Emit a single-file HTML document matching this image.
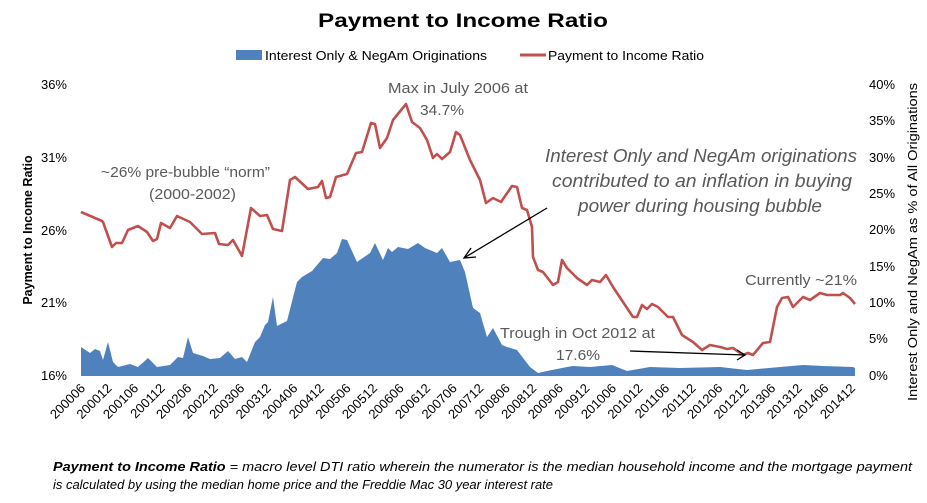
<!DOCTYPE html>
<html><head><meta charset="utf-8"><style>
body{margin:0;background:#fff;}
svg{display:block;font-family:"Liberation Sans",sans-serif;}
</style></head><body>
<svg width="927" height="503" viewBox="0 0 927 503">
<text x="318" y="27" font-size="19" font-weight="bold" fill="#000" textLength="290" lengthAdjust="spacingAndGlyphs">Payment to Income Ratio</text>
<rect x="236" y="50" width="26" height="10" fill="#4f81bd"/>
<text x="265" y="60" font-size="13" fill="#000" textLength="222" lengthAdjust="spacingAndGlyphs">Interest Only &amp; NegAm Originations</text>
<line x1="520" y1="55" x2="546" y2="55" stroke="#c0504d" stroke-width="3"/>
<text x="548" y="60" font-size="13" fill="#000" textLength="156" lengthAdjust="spacingAndGlyphs">Payment to Income Ratio</text>

<g font-size="13" fill="#000" text-anchor="end">
<text x="67" y="89">36%</text><text x="67" y="162">31%</text><text x="67" y="235">26%</text><text x="67" y="307">21%</text><text x="67" y="380">16%</text>
</g>
<g font-size="13" fill="#000" text-anchor="start">
<text x="869" y="89">40%</text><text x="869" y="125">35%</text><text x="869" y="162">30%</text><text x="869" y="198">25%</text><text x="869" y="234">20%</text><text x="869" y="271">15%</text><text x="869" y="307">10%</text><text x="869" y="343">5%</text><text x="869" y="380">0%</text>
</g>
<text transform="translate(32,230) rotate(-90)" text-anchor="middle" font-size="12.5" font-weight="bold" fill="#000">Payment to Income Ratio</text>
<text transform="translate(917,242) rotate(-90)" text-anchor="middle" font-size="13" fill="#000" textLength="318" lengthAdjust="spacingAndGlyphs">Interest Only and NegAm as % of All Originations</text>

<polygon fill="#4f81bd" points="81,376 81,347 90,353 95,349 100,351 103,360 108,342 113,362 118,367 130,364 138,367 148,358 157,367 170,365 178,357 183,358 188,337 193,353 203,356 210,359 220,358 228,351 235,359 242,357 247,362 255,342 260,337 265,325 268,322 273,297 277,326 287,321 297,282 302,277 312,271 323,258 330,259 337,253 342,239 347,240 357,262 370,253 375,243 383,260 388,248 392,252 398,247 408,249 418,243 425,248 437,253 442,248 450,262 460,260 465,272 473,308 480,313 487,337 493,328 502,345 507,347 517,350 530,367 538,373 547,371 567,367 573,366 590,367 612,365 627,371 650,367 680,368 720,367 747,370 780,367 803,365 823,366 853,367 855,368 855,376"/>

<polyline fill="none" stroke="#c0504d" stroke-width="2.6" stroke-linejoin="round" points="81,212 102,221 103,222 112,247 116,243 122,243 128,230 138,226 147,232 153,241 157,239 161,223 170,228 177,216 190,222 202,234 215,233 219,244 228,245 233,240 242,256 251,208 260,216 267,215 273,229 282,231 290,180 295,177 308,189 318,187 322,181 326,198 330,197 336,177 347,174 356,153 362,152 371,123 375,124 380,148 387,138 393,120 406,104 412,122 420,128 427,140 433,158 437,154 442,159 450,152 456,132 460,135 470,160 480,180 486,203 493,198 501,202 512,186 517,187 522,208 527,210 532,227 533,257 538,270 543,272 553,285 558,282 562,260 567,268 577,278 587,285 592,280 600,282 606,275 613,287 623,302 633,317 637,317 642,305 647,309 652,304 658,307 668,317 673,317 682,335 693,342 702,350 710,345 720,347 727,349 733,348 743,355 748,353 753,355 763,343 770,342 777,307 782,298 788,297 793,307 803,297 810,300 820,293 827,295 840,295 843,293 850,298 855,304"/>

<g font-size="15" fill="#595959">
<text x="101" y="177" textLength="169" lengthAdjust="spacingAndGlyphs">~26% pre-bubble “norm”</text>
<text x="149" y="199" textLength="87" lengthAdjust="spacingAndGlyphs">(2000-2002)</text>
<text x="388" y="93" textLength="140" lengthAdjust="spacingAndGlyphs">Max in July 2006 at</text>
<text x="420" y="115" textLength="44" lengthAdjust="spacingAndGlyphs">34.7%</text>
<text x="500" y="338" textLength="155" lengthAdjust="spacingAndGlyphs">Trough in Oct 2012 at</text>
<text x="556" y="360" textLength="44" lengthAdjust="spacingAndGlyphs">17.6%</text>
<text x="745" y="285" textLength="112" lengthAdjust="spacingAndGlyphs">Currently ~21%</text>
</g>
<g font-size="18" font-style="italic" fill="#595959">
<text x="545" y="162" textLength="312" lengthAdjust="spacingAndGlyphs">Interest Only and NegAm originations</text>
<text x="552" y="187" textLength="300" lengthAdjust="spacingAndGlyphs">contributed to an inflation in buying</text>
<text x="578" y="212" textLength="244" lengthAdjust="spacingAndGlyphs">power during housing bubble</text>
</g>
<line x1="547" y1="208" x2="464" y2="258" stroke="#000" stroke-width="1.3"/>
<polyline points="471,248 464,258 476,257" fill="none" stroke="#000" stroke-width="1.3"/>
<line x1="630" y1="351" x2="745" y2="355" stroke="#000" stroke-width="1.3"/>
<polyline points="737,350 745,355 737,360" fill="none" stroke="#000" stroke-width="1.3"/>

<g font-size="13" fill="#000" text-anchor="end">
<text transform="translate(86,389) rotate(-45)">200006</text>
<text transform="translate(112.5,389) rotate(-45)">200012</text>
<text transform="translate(139.1,389) rotate(-45)">200106</text>
<text transform="translate(165.6,389) rotate(-45)">200112</text>
<text transform="translate(192.2,389) rotate(-45)">200206</text>
<text transform="translate(218.7,389) rotate(-45)">200212</text>
<text transform="translate(245.3,389) rotate(-45)">200306</text>
<text transform="translate(271.8,389) rotate(-45)">200312</text>
<text transform="translate(298.4,389) rotate(-45)">200406</text>
<text transform="translate(324.9,389) rotate(-45)">200412</text>
<text transform="translate(351.5,389) rotate(-45)">200506</text>
<text transform="translate(378,389) rotate(-45)">200512</text>
<text transform="translate(404.6,389) rotate(-45)">200606</text>
<text transform="translate(431.1,389) rotate(-45)">200612</text>
<text transform="translate(457.7,389) rotate(-45)">200706</text>
<text transform="translate(484.2,389) rotate(-45)">200712</text>
<text transform="translate(510.8,389) rotate(-45)">200806</text>
<text transform="translate(537.3,389) rotate(-45)">200812</text>
<text transform="translate(563.9,389) rotate(-45)">200906</text>
<text transform="translate(590.4,389) rotate(-45)">200912</text>
<text transform="translate(617,389) rotate(-45)">201006</text>
<text transform="translate(643.5,389) rotate(-45)">201012</text>
<text transform="translate(670.1,389) rotate(-45)">201106</text>
<text transform="translate(696.6,389) rotate(-45)">201112</text>
<text transform="translate(723.2,389) rotate(-45)">201206</text>
<text transform="translate(749.7,389) rotate(-45)">201212</text>
<text transform="translate(776.3,389) rotate(-45)">201306</text>
<text transform="translate(802.8,389) rotate(-45)">201312</text>
<text transform="translate(829.4,389) rotate(-45)">201406</text>
<text transform="translate(856,389) rotate(-45)">201412</text>
</g>

<g font-size="13" font-style="italic" fill="#000">
<text x="53" y="471" textLength="859" lengthAdjust="spacingAndGlyphs"><tspan font-weight="bold">Payment to Income Ratio</tspan> = macro level DTI ratio wherein the numerator is the median household income and the mortgage payment</text>
<text x="53" y="489" textLength="500" lengthAdjust="spacingAndGlyphs">is calculated by using the median home price and the Freddie Mac 30 year interest rate</text>
</g>
</svg>
</body></html>
